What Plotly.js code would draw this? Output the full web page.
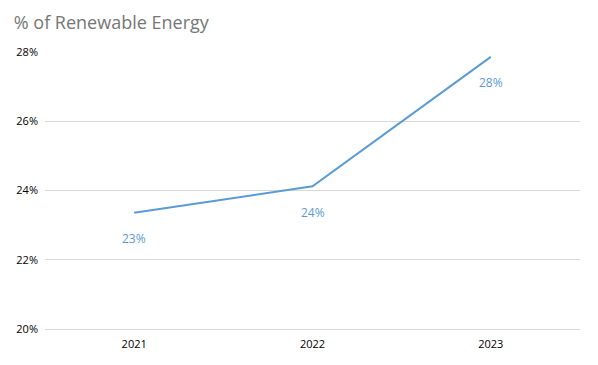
<!DOCTYPE html>
<html>
<head>
<meta charset="utf-8">
<script src="https://cdn.plot.ly/plotly-3.0.1.min.js"></script>
<style>html,body{margin:0;padding:0;background:#fff;}#chart{width:598px;height:365px;}</style>
</head>
<body>
<div id="chart"></div>
<script>
var years = ['2021', '2022', '2023'];
var renewablePct = [23.36, 24.12, 27.86];
var labels = ['23%', '24%', '28%'];
var yTicks = [20, 22, 24, 26, 28];
var yTickText = ['20%', '22%', '24%', '26%', '28%'];

var lineColor = '#5B9BD5';
var fontFam = 'Open Sans, Noto Sans, sans-serif';

var trace = {
  x: years,
  y: renewablePct,
  type: 'scatter',
  mode: 'lines',
  line: {color: lineColor, width: 2},
  hoverinfo: 'skip',
  showlegend: false
};

var annotations = years.map(function (yr, i) {
  return {
    x: i, y: renewablePct[i], xref: 'x', yref: 'y',
    text: labels[i], showarrow: false, yshift: -26,
    font: {family: fontFam, size: 12, color: lineColor}
  };
});

var layout = {
  width: 598, height: 365,
  margin: {l: 45, r: 18, t: 52, b: 36},
  paper_bgcolor: '#ffffff', plot_bgcolor: '#ffffff',
  title: {
    text: '% of Renewable Energy',
    x: 0.023, xanchor: 'left', y: 0.937, yanchor: 'middle',
    font: {family: fontFam, size: 18, color: '#767676'}
  },
  xaxis: {
    type: 'category', range: [-0.5, 2.5],
    showgrid: false, zeroline: false,
    showline: true, linecolor: '#d9d9d9', linewidth: 1,
    ticks: '', ticklabelstandoff: 5,
    tickfont: {family: fontFam, size: 11, color: '#000'}
  },
  yaxis: {
    range: [20, 28], tickvals: yTicks, ticktext: yTickText,
    showgrid: true, gridcolor: '#d9d9d9', gridwidth: 1,
    zeroline: false, showline: false, ticks: '', ticklabelstandoff: 6,
    tickfont: {family: fontFam, size: 11, color: '#000'}
  },
  annotations: annotations
};

Plotly.newPlot('chart', [trace], layout, {displayModeBar: false, staticPlot: true});
</script>
</body>
</html>
